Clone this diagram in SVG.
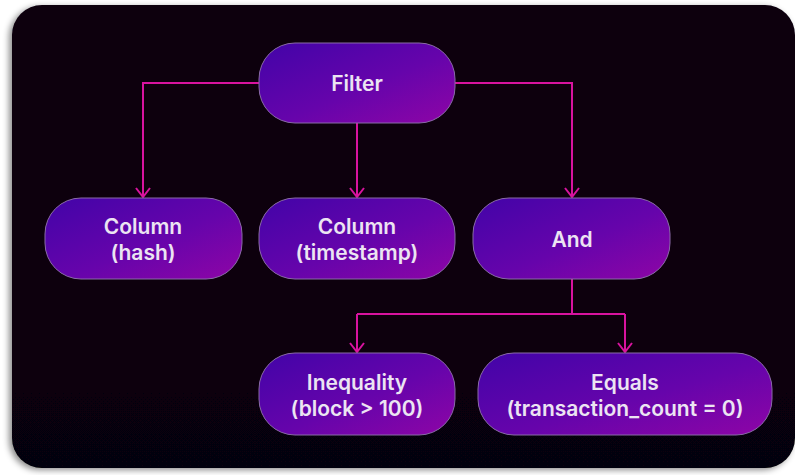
<svg xmlns="http://www.w3.org/2000/svg" width="795" height="475" viewBox="0 0 795 475">
  <defs>
    <linearGradient id="nodeFill" x1="0" y1="0" x2="1" y2="1">
      <stop offset="0" stop-color="#4204a8"/>
      <stop offset="0.55" stop-color="#6604ab"/>
      <stop offset="1" stop-color="#8e05a6"/>
    </linearGradient>
    <linearGradient id="bgFill" x1="0" y1="0" x2="0" y2="1">
      <stop offset="0" stop-color="#0c0010"/>
      <stop offset="1" stop-color="#060007"/>
    </linearGradient>
    <filter id="cardShadow" x="-5%" y="-5%" width="110%" height="110%">
      <feDropShadow dx="-3" dy="2" stdDeviation="3" flood-color="#000" flood-opacity="0.45"/>
    </filter>
    <marker id="chevron" viewBox="0 0 12 16" refX="11" refY="8" markerWidth="12" markerHeight="16" markerUnits="userSpaceOnUse" orient="auto">
      <path d="M2 1 L11 8 L2 15" fill="none" stroke="#d8139f" stroke-width="2"/>
    </marker>
  </defs>
  <style>
    .node rect { fill: url(#nodeFill); stroke: #8a6aa8; stroke-width: 1; }
    .node text { font-family: Inter, "Noto Sans", "Liberation Sans", sans-serif; font-weight: 600; font-size: 21px; fill: #ece4f2; text-anchor: middle; }
    .link { fill: none; stroke: #d8139f; stroke-width: 2; }
  </style>

  <rect width="795" height="475" fill="#ffffff"/>
  <rect x="12" y="5" width="783" height="463" rx="30" fill="url(#bgFill)" filter="url(#cardShadow)"/>

  <g id="connectors">
    <path class="link" d="M259 83 H143 V197" marker-end="url(#chevron)"/>
    <path class="link" d="M357 123 V197" marker-end="url(#chevron)"/>
    <path class="link" d="M455 83 H572 V197" marker-end="url(#chevron)"/>
    <path class="link" d="M572 279 V314"/>
    <path class="link" d="M357 314 H625"/>
    <path class="link" d="M357 314 V352" marker-end="url(#chevron)"/>
    <path class="link" d="M625 314 V352" marker-end="url(#chevron)"/>
  </g>

  <g id="node-filter" class="node">
    <rect x="259" y="43" width="196" height="80" rx="36"/>
    <text x="357" y="91">Filter</text>
  </g>
  <g id="node-column-hash" class="node">
    <rect x="45" y="198" width="197" height="81" rx="36"/>
    <text x="143" y="234">Column</text>
    <text x="143" y="260">(hash)</text>
  </g>
  <g id="node-column-timestamp" class="node">
    <rect x="259" y="198" width="196" height="81" rx="36"/>
    <text x="357" y="234">Column</text>
    <text x="357" y="260">(timestamp)</text>
  </g>
  <g id="node-and" class="node">
    <rect x="473" y="198" width="197" height="81" rx="36"/>
    <text x="572" y="247">And</text>
  </g>
  <g id="node-inequality" class="node">
    <rect x="259" y="353" width="196" height="82" rx="36"/>
    <text x="357" y="390">Inequality</text>
    <text x="357" y="416">(block &gt; 100)</text>
  </g>
  <g id="node-equals" class="node">
    <rect x="478" y="353" width="294" height="82" rx="36"/>
    <text x="625" y="390">Equals</text>
    <text x="625" y="416">(transaction_count = 0)</text>
  </g>
</svg>
